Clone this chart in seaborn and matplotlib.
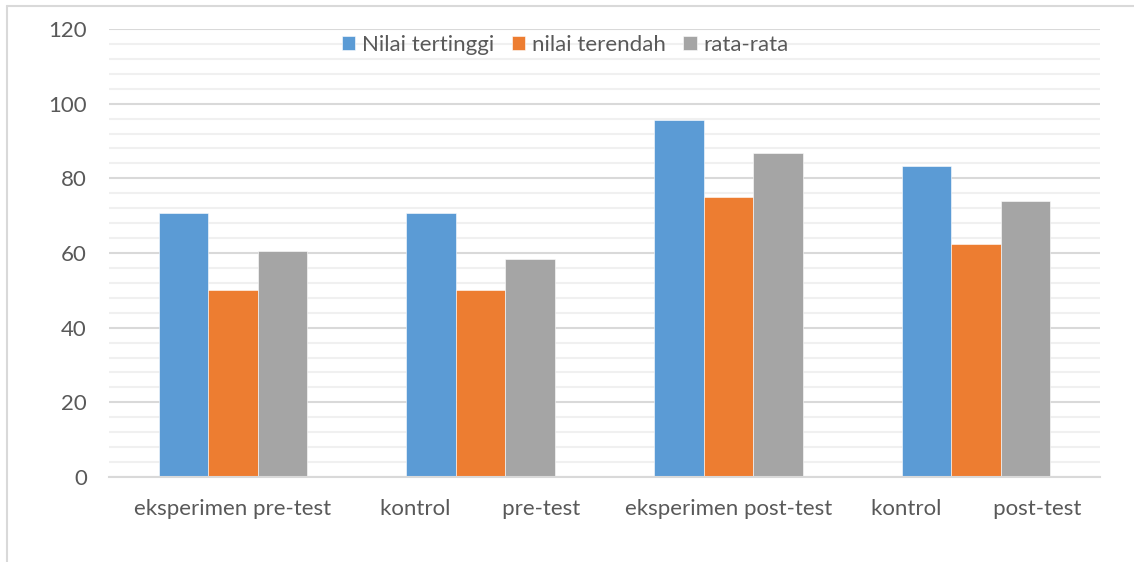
import matplotlib.pyplot as plt
import pandas as pd
import seaborn as sns
from matplotlib.lines import Line2D
from matplotlib.ticker import MultipleLocator

categories = [
    "eksperimen pre-test",
    "kontrol         pre-test",
    "eksperimen post-test",
    "kontrol         post-test",
]
series = ["Nilai tertinggi", "nilai terendah", "rata-rata"]
nilai_tertinggi = [70.6, 70.6, 95.6, 83.2]
nilai_terendah = [50, 50, 75, 62.4]
rata_rata = [60.6, 58.5, 86.7, 73.8]
colors = ["#5B9BD5", "#ED7D31", "#A5A5A5"]

df = pd.DataFrame({
    "kategori": categories * 3,
    "seri": [s for s in series for _ in categories],
    "nilai": nilai_tertinggi + nilai_terendah + rata_rata,
})

sns.set_style("white")
plt.rcParams["font.family"] = ["Lato", "DejaVu Sans"]
text_color = "#595959"

fig = plt.figure(figsize=(11.34, 5.62), dpi=100)
ax = fig.add_axes([109 / 1134, 1 - 477 / 562, 991 / 1134, 448 / 562])

sns.barplot(
    df, ax=ax,
    x="kategori", y="nilai", hue="seri",
    hue_order=series, palette=colors,
    width=0.6, saturation=1, gap=0,
    edgecolor="white", linewidth=0.4,
    legend=True,
)

ax.set_xlim(-0.5, 3.5)
ax.set_ylim(0, 120)
ax.yaxis.set_major_locator(MultipleLocator(20))
ax.yaxis.set_minor_locator(MultipleLocator(4))
ax.grid(axis="y", which="major", color="#d9d9d9", linewidth=1.5)
ax.grid(axis="y", which="minor", color="#f0f0f0", linewidth=1.5)
ax.set_axisbelow(True)
for side in ["top", "right", "left"]:
    ax.spines[side].set_visible(False)
ax.spines["bottom"].set_color("#d9d9d9")
ax.spines["bottom"].set_linewidth(1.5)

ax.set_xlabel("")
ax.set_ylabel("")
ax.tick_params(axis="both", which="both", length=0, labelsize=16, labelcolor=text_color)
ax.tick_params(axis="y", pad=16)
ax.tick_params(axis="x", pad=16)

handles, labels = ax.get_legend_handles_labels()
ax.get_legend().remove()
fig.legend(
    handles, labels,
    loc="center", bbox_to_anchor=(565 / 1134, 1 - 45 / 562),
    ncol=3, frameon=False, fontsize=16, labelcolor=text_color,
    handlelength=0.6, handleheight=0.6, handletextpad=0.3, columnspacing=0.8,
)

# chart border (left and top edges visible)
border = "#d9d9d9"
fig.add_artist(Line2D([7 / 1134, 1], [1 - 6 / 562, 1 - 6 / 562], color=border, linewidth=1.5))
fig.add_artist(Line2D([7 / 1134, 7 / 1134], [0, 1 - 6 / 562], color=border, linewidth=1.5))

fig.savefig("out.png", dpi=100)
